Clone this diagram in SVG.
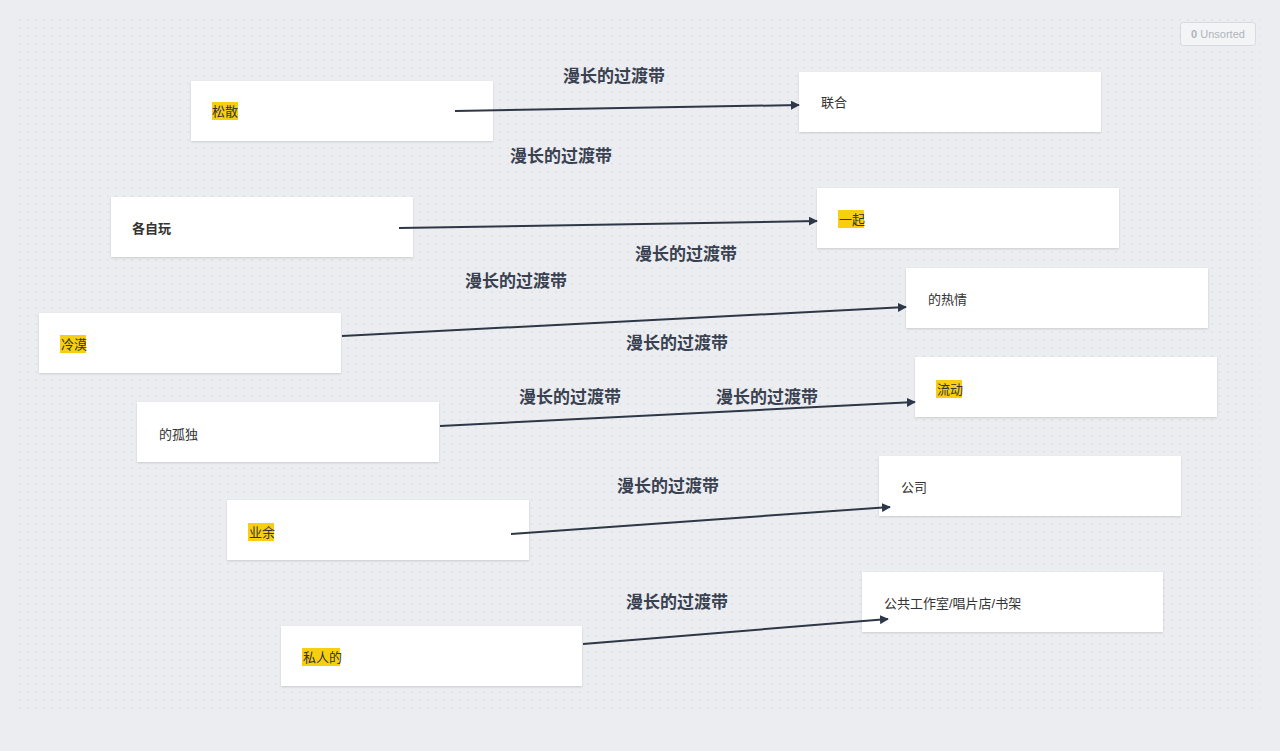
<svg xmlns="http://www.w3.org/2000/svg" width="1280" height="751" viewBox="0 0 1280 751">
<defs>
<pattern id="dots" width="8" height="8" patternUnits="userSpaceOnUse"><circle cx="4" cy="4" r="0.8" fill="#d3d6db"/></pattern>
<marker id="arr" viewBox="0 0 10 10" refX="9" refY="5" markerWidth="9" markerHeight="9" markerUnits="userSpaceOnUse" orient="auto"><path d="M0,0L10,5L0,10z" fill="#2d3748"/></marker>
<filter id="sh" x="-5%" y="-10%" width="110%" height="130%"><feDropShadow dx="0" dy="1" stdDeviation="1" flood-color="#000" flood-opacity="0.15"/></filter>
</defs>
<style>
.n{fill:#fff;filter:url(#sh)}
.t{font-family:"Liberation Sans","Noto Sans CJK SC",sans-serif;font-size:13px;fill:#333}
.hl{fill:#f8cf10}
.lb{font-family:"Liberation Sans","Noto Sans CJK SC",sans-serif;font-size:17px;font-weight:bold;fill:#3a4150;text-anchor:middle}
.c{stroke:#2d3748;stroke-width:2;fill:none;marker-end:url(#arr)}
</style>
<rect width="1280" height="751" fill="#ebedf0"/>
<rect x="18" y="18" width="1242" height="697" fill="url(#dots)"/>
<g id="unsorted"><rect x="1180.500" y="22.500" width="75" height="23" rx="3" fill="#f3f4f6" stroke="#d6d9de"/><text x="1218" y="38" text-anchor="middle" font-family="Liberation Sans,sans-serif" font-size="11" fill="#b0b4ba"><tspan font-weight="bold">0</tspan> Unsorted</text></g>
<g id="n1"><rect class="n" x="191" y="81" width="302" height="60"/><rect class="hl" x="212" y="102" width="26" height="18"/><text class="t" x="212" y="116">松散</text></g>
<g id="n2"><rect class="n" x="799" y="72" width="302" height="60"/><text class="t" x="821" y="107">联合</text></g>
<g id="n3"><rect class="n" x="111" y="197" width="302" height="60"/><text class="t" x="132" y="233" font-weight="bold">各自玩</text></g>
<g id="n4"><rect class="n" x="817" y="188" width="302" height="60"/><rect class="hl" x="838" y="210" width="26" height="18"/><text class="t" x="839" y="224">一起</text></g>
<g id="n5"><rect class="n" x="906" y="268" width="302" height="60"/><text class="t" x="928" y="304">的热情</text></g>
<g id="n6"><rect class="n" x="39" y="313" width="302" height="60"/><rect class="hl" x="60" y="335" width="26" height="18"/><text class="t" x="61" y="349">冷漠</text></g>
<g id="n7"><rect class="n" x="137" y="402" width="302" height="60"/><text class="t" x="159" y="439">的孤独</text></g>
<g id="n8"><rect class="n" x="915" y="357" width="302" height="60"/><rect class="hl" x="936" y="380" width="26" height="18"/><text class="t" x="937" y="394">流动</text></g>
<g id="n9"><rect class="n" x="879" y="456" width="302" height="60"/><text class="t" x="901" y="492">公司</text></g>
<g id="n10"><rect class="n" x="227" y="500" width="302" height="60"/><rect class="hl" x="248" y="523" width="26" height="18"/><text class="t" x="249" y="537">业余</text></g>
<g id="n11"><rect class="n" x="862" y="572" width="301" height="60"/><text class="t" x="884" y="608">公共工作室/唱片店/书架</text></g>
<g id="n12"><rect class="n" x="281" y="626" width="301" height="60"/><rect class="hl" x="302" y="648" width="38" height="18"/><text class="t" x="303" y="662">私人的</text></g>
<g id="connectors">
<line class="c" x1="455" y1="111" x2="799" y2="105"/>
<line class="c" x1="399" y1="228" x2="817" y2="221"/>
<line class="c" x1="342" y1="336" x2="906" y2="307"/>
<line class="c" x1="440" y1="426" x2="915" y2="402"/>
<line class="c" x1="511" y1="534" x2="890" y2="507"/>
<line class="c" x1="583" y1="644" x2="888" y2="619"/>
</g>
<g id="labels">
<text class="lb" x="614" y="82">漫长的过渡带</text>
<text class="lb" x="561" y="162">漫长的过渡带</text>
<text class="lb" x="686" y="260">漫长的过渡带</text>
<text class="lb" x="516" y="287">漫长的过渡带</text>
<text class="lb" x="677" y="349">漫长的过渡带</text>
<text class="lb" x="570" y="403">漫长的过渡带</text>
<text class="lb" x="767" y="403">漫长的过渡带</text>
<text class="lb" x="668" y="492">漫长的过渡带</text>
<text class="lb" x="677" y="608">漫长的过渡带</text>
</g>
</svg>
